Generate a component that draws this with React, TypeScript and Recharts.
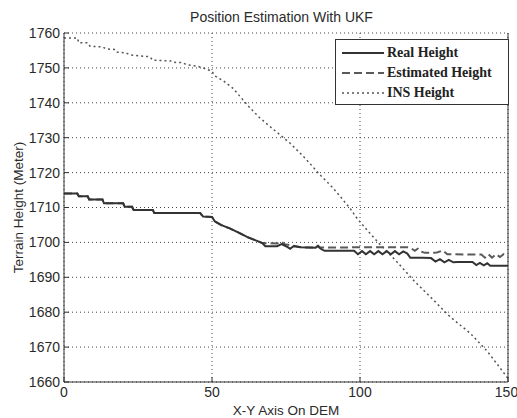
import React from 'react';
import { LineChart, Line, XAxis, YAxis, CartesianGrid } from 'recharts';

const xTicks = [0, 50, 100, 150];
const yTicks = [1660, 1670, 1680, 1690, 1700, 1710, 1720, 1730, 1740, 1750, 1760];

const realX = [0, 4.5, 5, 8, 8.5, 13, 13.5, 20, 20.5, 23, 23.5, 30, 30.5, 46, 47, 50, 51, 53, 56, 59, 62, 65, 67, 68, 72, 73.5, 75, 76.4, 77.5, 80, 85, 85.8, 86.5, 88, 98, 99.3, 100.7, 102, 103.4, 104.8, 106.2, 107.6, 109, 110.4, 111.8, 113.2, 114.6, 116, 117, 121, 124, 125.5, 127, 128.5, 130, 131.5, 133, 138, 139.3, 140.5, 141.8, 143, 144, 150];
const realY = [1714, 1714, 1713.2, 1713.2, 1712.3, 1712.3, 1711.2, 1711.2, 1710.2, 1710.2, 1709.3, 1709.3, 1708.4, 1708.4, 1707.4, 1707.3, 1706, 1705, 1704, 1702.8, 1701.5, 1700.5, 1699.8, 1698.9, 1698.9, 1699.5, 1698.9, 1698.2, 1698.9, 1698.6, 1698.5, 1699, 1698.3, 1697.6, 1697.6, 1696.6, 1697.5, 1696.6, 1697.5, 1696.6, 1697.5, 1696.6, 1697.5, 1696.6, 1697.5, 1696.6, 1697.4, 1696.8, 1695.6, 1695.6, 1695.5, 1694.5, 1695.2, 1694.3, 1695, 1694.3, 1694.4, 1694.4, 1693.5, 1694.1, 1693.4, 1694, 1693.3, 1693.3];

const estX = [0, 4.5, 5, 8, 8.5, 13, 13.5, 20, 20.5, 23, 23.5, 30, 30.5, 46, 47, 50, 51, 53, 56, 59, 62, 65, 67, 72, 73.3, 74.5, 78, 80, 85, 85.8, 86.5, 88, 100, 116, 117.5, 118.5, 119.5, 120.5, 122, 126, 128, 129.5, 141, 142.2, 143.4, 144.6, 146, 147.3, 148.5, 150];
const estY = [1714, 1714, 1713.2, 1713.2, 1712.3, 1712.3, 1711.2, 1711.2, 1710.2, 1710.2, 1709.3, 1709.3, 1708.4, 1708.4, 1707.4, 1707.3, 1706, 1705, 1704, 1702.8, 1701.5, 1700.5, 1699.8, 1699.7, 1700.2, 1699.5, 1699, 1698.6, 1698.5, 1699, 1698.6, 1698.5, 1698.6, 1698.6, 1698.2, 1697.6, 1698.2, 1697.4, 1697, 1697.1, 1697.7, 1696.6, 1696.5, 1695.6, 1696.6, 1695.6, 1696.6, 1695.8, 1696.6, 1696];

const insX = [0, 4.5, 5, 8, 8.8, 13, 14.4, 17, 17.8, 21, 22, 25.7, 29, 30, 36, 37, 40, 41.4, 45, 48, 50, 51, 54, 57, 60, 63, 66, 69.6, 73, 76.4, 80, 83, 86, 91, 96.6, 99, 102.3, 107, 112.4, 118, 124.8, 130.4, 137.2, 142.8, 146, 150];
const insY = [1758.6, 1758.6, 1757.2, 1757.2, 1756.2, 1756, 1755.4, 1755.3, 1754.5, 1754.3, 1753.8, 1753.4, 1753.2, 1752.2, 1752, 1751.6, 1751.5, 1750.9, 1750.5, 1749.7, 1749, 1747.7, 1746.2, 1744.2, 1741.3, 1738.4, 1735.8, 1733.2, 1730.8, 1728.4, 1725.4, 1722.7, 1719.8, 1715.5, 1709.8, 1706.9, 1703.6, 1699.2, 1694.5, 1689.2, 1683.5, 1678.7, 1674, 1669, 1665.5, 1661];

const realData = realX.map((x, i) => ({ x, y: realY[i] }));
const estData = estX.map((x, i) => ({ x, y: estY[i] }));
const insData = insX.map((x, i) => ({ x, y: insY[i] }));

const font = '"Liberation Sans", Arial, sans-serif';
const textColor = '#2a2a2a';
const blank = () => '';

export default function App() {
  return (
    <div style={{ position: 'absolute', left: 0, top: 0, width: 517, height: 418, background: '#fff' }}>
      <div style={{ position: 'absolute', left: 0, top: 8, width: 563, textAlign: 'center', fontFamily: font, fontSize: 14, color: textColor, lineHeight: '18px' }}>
        Position Estimation With UKF
      </div>
      <LineChart width={517} height={418} margin={{ top: 33, right: 0, bottom: 0, left: 0 }}>
        <CartesianGrid stroke="#444" strokeDasharray="1 3" strokeWidth={1} />
        <XAxis
          xAxisId={0}
          type="number"
          dataKey="x"
          domain={[0, 150]}
          ticks={xTicks}
          height={36}
          stroke="#333"
          tickSize={-5}
          tickMargin={10}
          tick={{ fill: textColor, fontFamily: font, fontSize: 14 }}
          allowDuplicatedCategory={false}
          label={{ value: 'X-Y Axis On DEM', position: 'insideBottom', offset: 3, fill: textColor, fontFamily: font, fontSize: 13.5 }}
        />
        <XAxis
          xAxisId="t"
          orientation="top"
          type="number"
          dataKey="x"
          domain={[0, 150]}
          ticks={xTicks}
          height={0}
          stroke="#333"
          tickSize={-5}
          tickFormatter={blank}
        />
        <YAxis
          yAxisId={0}
          type="number"
          domain={[1660, 1760]}
          ticks={yTicks}
          width={64}
          stroke="#333"
          tickSize={-5}
          tickMargin={9}
          tick={{ fill: textColor, fontFamily: font, fontSize: 14 }}
          label={{ value: 'Terrain Height (Meter)', angle: -90, position: 'insideLeft', offset: 18, fill: textColor, fontFamily: font, fontSize: 13.5, style: { textAnchor: 'middle' } }}
        />
        <YAxis
          yAxisId="r"
          orientation="right"
          type="number"
          domain={[1660, 1760]}
          ticks={yTicks}
          width={9}
          stroke="#333"
          tickSize={-5}
          tickFormatter={blank}
        />
        <Line data={insData} dataKey="y" type="linear" stroke="#555" strokeWidth={1.5} strokeDasharray="2 3" dot={false} isAnimationActive={false} />
        <Line data={estData} dataKey="y" type="linear" stroke="#5a5a5a" strokeWidth={2} strokeDasharray="8 4" dot={false} isAnimationActive={false} />
        <Line data={realData} dataKey="y" type="linear" stroke="#333" strokeWidth={2} dot={false} isAnimationActive={false} />
      </LineChart>
      <div style={{ position: 'absolute', left: 335, top: 39, width: 172, height: 64, border: '1px solid #333', background: '#fff', fontFamily: '"Liberation Serif", "Times New Roman", serif', fontWeight: 'bold', fontSize: 14, color: '#222' }}>
        {[
          { name: 'Real Height', dash: undefined, w: 2, c: '#333' },
          { name: 'Estimated Height', dash: '8 4', w: 2, c: '#5a5a5a' },
          { name: 'INS Height', dash: '2 3', w: 1.5, c: '#555' },
        ].map((it, i) => (
          <div key={it.name} style={{ position: 'absolute', left: 5, top: 4 + i * 20, height: 18, display: 'flex', alignItems: 'center' }}>
            <svg width={43} height={18} style={{ display: 'block' }}>
              <line x1={1} y1={9} x2={43} y2={9} stroke={it.c} strokeWidth={it.w} strokeDasharray={it.dash} />
            </svg>
            <span style={{ marginLeft: 3, lineHeight: '18px' }}>{it.name}</span>
          </div>
        ))}
      </div>
    </div>
  );
}
